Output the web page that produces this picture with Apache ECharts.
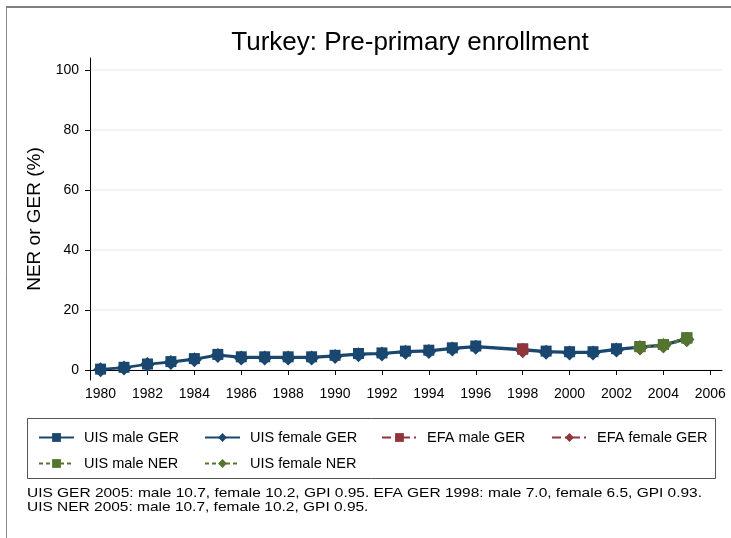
<!DOCTYPE html>
<html>
<head>
<meta charset="utf-8">
<script src="https://cdn.jsdelivr.net/npm/echarts@6/dist/echarts.min.js"></script>
<style>
  html, body { margin: 0; padding: 0; background: #fff; }
  #chart { width: 731px; height: 538px; }
</style>
</head>
<body>
<div id="chart"></div>
<script>
// years for the UIS GER series (1997 missing)
var gerYears = [1980, 1981, 1982, 1983, 1984, 1985, 1986, 1987, 1988, 1989, 1990, 1991, 1992,
    1993, 1994, 1995, 1996, 1998, 1999, 2000, 2001, 2002, 2003, 2004, 2005];
var uisMaleGer = [0.3, 0.9, 2.0, 2.8, 3.8, 5.2, 4.4, 4.4, 4.4, 4.4, 4.9, 5.5, 5.7,
    6.3, 6.6, 7.4, 8.0, 7.0, 6.3, 6.1, 6.1, 7.1, 7.8, 8.5, 10.7];
var uisFemaleGer = [0.1, 0.7, 1.8, 2.5, 3.4, 4.8, 4.0, 4.0, 4.0, 4.0, 4.5, 5.1, 5.3,
    5.9, 6.2, 7.0, 7.6, 6.5, 5.9, 5.7, 5.7, 6.7, 7.4, 8.1, 10.2];

var efaYears = [1998];
var efaMaleGer = [7.0];
var efaFemaleGer = [6.5];

var nerYears = [2003, 2004, 2005];
var uisMaleNer = [7.8, 8.5, 10.7];
var uisFemaleNer = [7.4, 8.1, 10.2];

var xTicks = [1980, 1982, 1984, 1986, 1988, 1990, 1992, 1994, 1996, 1998, 2000, 2002, 2004, 2006];
var yTicks = [0, 20, 40, 60, 80, 100];

var noteLines = [
    'UIS GER 2005: male 10.7, female 10.2, GPI 0.95. EFA GER 1998: male 7.0, female 6.5, GPI 0.93.',
    'UIS NER 2005: male 10.7, female 10.2, GPI 0.95.'
];

var navy = '#1a476f';
var maroon = '#90353b';
var green = '#55752f';
var font = 'Liberation Sans, Arial, sans-serif';

function pairs(xs, ys) {
    return xs.map(function (x, i) { return [x, ys[i]]; });
}

function makeSeries(name, xs, ys, color, symbol, size, dash) {
    return {
        name: name,
        type: 'line',
        data: pairs(xs, ys),
        symbol: symbol,
        symbolSize: size,
        showAllSymbol: true,
        itemStyle: { color: color },
        lineStyle: { color: color, width: 2, type: dash },
        emphasis: { disabled: true },
        animation: false
    };
}

function legendItem(name, left, top) {
    return {
        data: [name],
        left: left,
        top: top,
        itemWidth: 35,
        itemHeight: 11,
        padding: 0,
        selectedMode: false,
        textStyle: { fontFamily: font, fontSize: 14.5, color: '#000', padding: [0, 0, 0, 5] }
    };
}

var chart = echarts.init(document.getElementById('chart'));

var option = {
    backgroundColor: '#fff',
    animation: false,
    title: {
        text: 'Turkey: Pre-primary enrollment',
        left: 405,
        top: 25,
        textAlign: 'center',
        textStyle: { fontFamily: font, fontSize: 26, fontWeight: 'normal', color: '#000' }
    },
    grid: { left: 90, top: 58, width: 632, height: 322, containLabel: false },
    xAxis: {
        type: 'value',
        min: 1979.55,
        max: 2006.5,
        axisLine: { lineStyle: { color: '#000', width: 1 } },
        axisTick: { show: true, length: 5, customValues: xTicks, lineStyle: { color: '#000' } },
        axisLabel: {
            customValues: xTicks,
            formatter: function (v) { return String(v); },
            fontFamily: font, fontSize: 14, color: '#000', margin: 7
        },
        splitLine: { show: false }
    },
    yAxis: {
        type: 'value',
        min: -3.33,
        max: 104,
        name: 'NER or GER (%)',
        nameLocation: 'middle',
        nameGap: 37,
        nameTextStyle: { fontFamily: font, fontSize: 19, color: '#000' },
        axisLine: { show: true, lineStyle: { color: '#000', width: 1 } },
        axisTick: { show: true, length: 5, customValues: yTicks, lineStyle: { color: '#000' } },
        axisLabel: {
            customValues: yTicks,
            fontFamily: font, fontSize: 14, color: '#000', margin: 11
        },
        splitLine: { show: true, lineStyle: { color: '#eaf2f3', width: 1.5 } }
    },
    legend: [
        legendItem('UIS male GER', 38, 430),
        legendItem('UIS female GER', 204, 430),
        legendItem('EFA male GER', 381, 430),
        legendItem('EFA female GER', 551, 430),
        legendItem('UIS male NER', 38, 456),
        legendItem('UIS female NER', 204, 456)
    ],
    series: [
        makeSeries('UIS male GER', gerYears, uisMaleGer, navy, 'rect', 11, 'solid'),
        makeSeries('UIS female GER', gerYears, uisFemaleGer, navy, 'diamond', 15, 'solid'),
        makeSeries('EFA male GER', efaYears, efaMaleGer, maroon, 'rect', 11, [9, 4, 2, 4]),
        makeSeries('EFA female GER', efaYears, efaFemaleGer, maroon, 'diamond', 15, [9, 4, 2, 4]),
        makeSeries('UIS male NER', nerYears, uisMaleNer, green, 'rect', 11, [4, 3]),
        makeSeries('UIS female NER', nerYears, uisFemaleNer, green, 'diamond', 15, [4, 3])
    ],
    graphic: [
        // outer frame (top and left edges visible)
        { type: 'line', shape: { x1: 6, y1: 7, x2: 731, y2: 7 }, style: { stroke: '#000', lineWidth: 1.2 } },
        { type: 'line', shape: { x1: 6.5, y1: 7, x2: 6.5, y2: 538 }, style: { stroke: '#888', lineWidth: 1 } },
        // legend box
        { type: 'rect', shape: { x: 27.5, y: 418.5, width: 688, height: 60 },
          style: { fill: 'none', stroke: '#555', lineWidth: 1 }, z: -1 },
        { type: 'text', x: 27, y: 486, scaleX: 1.19,
          style: { text: noteLines.join('\n'), font: '13px ' + font, fill: '#000', lineHeight: 14 } }
    ]
};

chart.setOption(option);
</script>
</body>
</html>
